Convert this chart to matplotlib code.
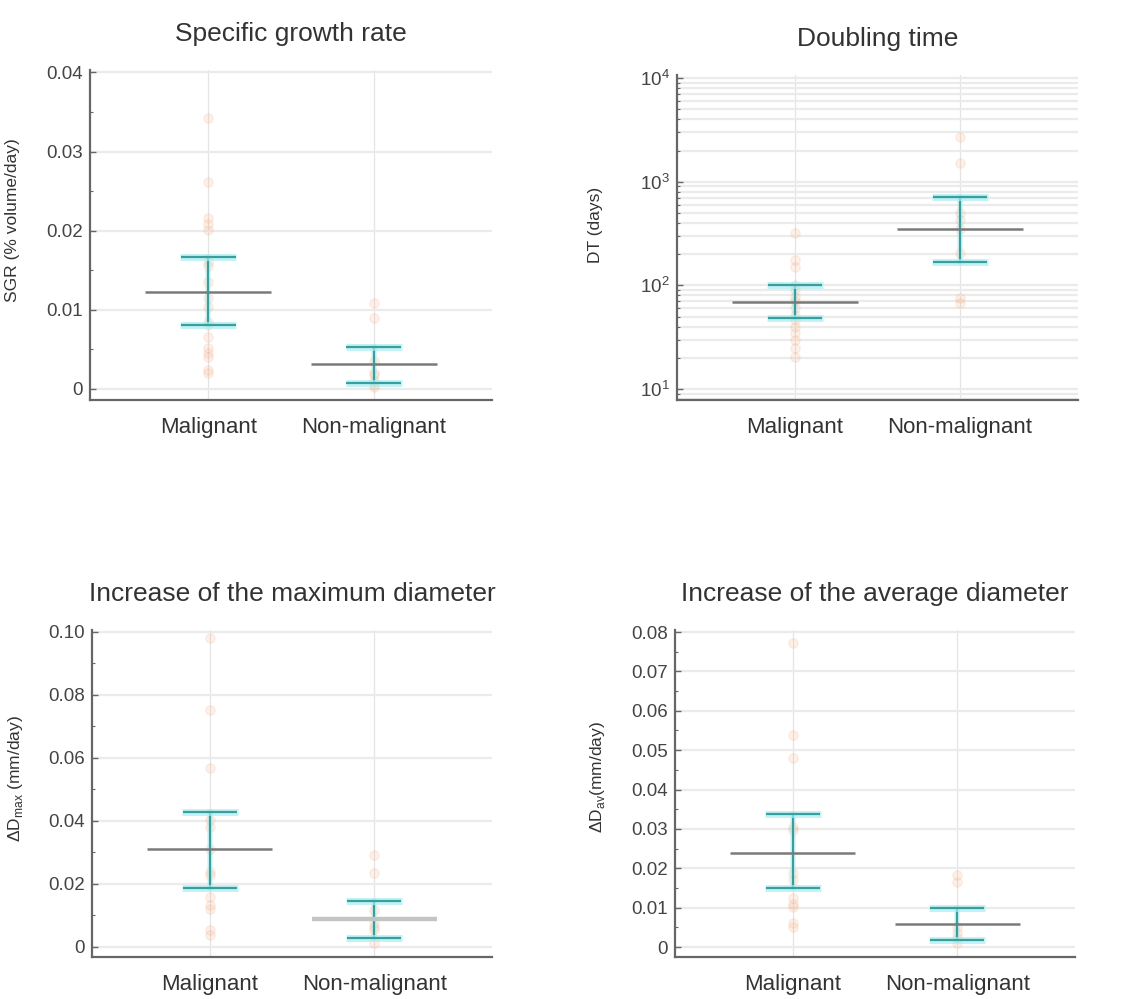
import matplotlib
matplotlib.use('Agg')
import matplotlib.pyplot as plt
from matplotlib.ticker import FixedLocator, LogLocator, NullFormatter, AutoMinorLocator

plt.rcParams['font.family'] = ['Liberation Sans', 'DejaVu Sans']
plt.rcParams['mathtext.fontset'] = 'custom'
plt.rcParams['mathtext.rm'] = 'Liberation Sans'

cats = ['Malignant', 'Non-malignant']

# specific growth rate
sgr_mal = [0.0343, 0.0262, 0.0216, 0.0209, 0.0201, 0.0160, 0.0155, 0.0135, 0.0115,
           0.0103, 0.0085, 0.0081, 0.0066, 0.0052, 0.0045, 0.0040, 0.0024, 0.0020]
sgr_non = [0.0108, 0.0089, 0.0035, 0.0020, 0.0017, 0.0010, 0.0005, 0.0002]
sgr_mean = [0.0123, 0.0032]
sgr_lo = [0.0081, 0.0007]
sgr_hi = [0.0167, 0.0053]
sgr_ticks = [0, 0.01, 0.02, 0.03, 0.04]
sgr_labels = ['0', '0.01', '0.02', '0.03', '0.04']

# doubling time
dt_mal = [319, 175, 151, 100, 90, 78, 70, 60, 52, 46, 40, 35, 30, 25, 20.5]
dt_non = [2710, 1500, 494, 427, 350, 203, 75, 67]
dt_mean = [69.5, 347]
dt_lo = [48, 167]
dt_hi = [100, 715]

# increase of max diameter
dmax_mal = [0.098, 0.0752, 0.0568, 0.0403, 0.0382, 0.031, 0.0239, 0.0229, 0.016,
            0.0133, 0.0122, 0.0054, 0.0038]
dmax_non = [0.0292, 0.0235, 0.0117, 0.0076, 0.0064, 0.0054, 0.0013]
dmax_mean = [0.0310, 0.0089]
dmax_lo = [0.0188, 0.0030]
dmax_hi = [0.0430, 0.0147]
dmax_ticks = [0, 0.02, 0.04, 0.06, 0.08, 0.10]
dmax_labels = ['0', '0.02', '0.04', '0.06', '0.08', '0.10']

# increase of average diameter
dav_mal = [0.0771, 0.0538, 0.0479, 0.0306, 0.0297, 0.0187, 0.017, 0.0124, 0.011,
           0.0102, 0.006, 0.0052]
dav_non = [0.0183, 0.0166, 0.0052, 0.0035, 0.0022, 0.001]
dav_mean = [0.0240, 0.0058]
dav_lo = [0.0149, 0.0019]
dav_hi = [0.0338, 0.0098]
dav_ticks = [0, 0.01, 0.02, 0.03, 0.04, 0.05, 0.06, 0.07, 0.08]
dav_labels = ['0', '0.01', '0.02', '0.03', '0.04', '0.05', '0.06', '0.07', '0.08']

fig = plt.figure(figsize=(11.22, 9.99), dpi=100)

TEAL = '#3a9e9e'
GLOW = '#a8eef0'
DOT = '#f7a779'


def panel(ax, groups, mean, lo, hi, title, ylabel, mean_colors=('#7a7a7a', '#7a7a7a'),
          mean_lw=(1.8, 1.8)):
    pos = [1, 2]
    for p in pos:
        ax.axvline(p, color='#e4e4e4', lw=0.9, zorder=0)
    for p, vals in zip(pos, groups):
        ax.scatter([p] * len(vals), vals, s=45, facecolor=DOT, edgecolor=DOT,
                   alpha=0.16, lw=1.0, zorder=2)
    for i, p in enumerate(pos):
        ax.plot([p, p], [lo[i], hi[i]], color=GLOW, lw=4, alpha=0.5, zorder=3)
        ax.plot([p, p], [lo[i], hi[i]], color=TEAL, lw=1.6, zorder=3)
        for v in (lo[i], hi[i]):
            ax.plot([p - 0.17, p + 0.17], [v, v], color=GLOW, lw=5, alpha=0.7,
                    solid_capstyle='butt', zorder=3)
            ax.plot([p - 0.165, p + 0.165], [v, v], color=TEAL, lw=1.6,
                    solid_capstyle='butt', zorder=4)
        ax.plot([p - 0.38, p + 0.38], [mean[i], mean[i]], color=mean_colors[i],
                lw=mean_lw[i], solid_capstyle='butt', zorder=5)
    ax.set_xlim(0.285, 2.715)
    ax.set_xticks(pos)
    ax.set_xticklabels(cats, fontsize=16, color='#333333')
    ax.tick_params(axis='x', length=0, pad=12)
    ax.tick_params(axis='y', which='both', direction='in', colors='#666666',
                   labelcolor='#444444', labelsize=13.5, pad=5)
    ax.tick_params(axis='y', which='major', length=4, width=1)
    ax.tick_params(axis='y', which='minor', length=2.5, width=0.8)
    ax.grid(axis='y', which='major', color='#ebebeb', lw=1.6, zorder=0)
    ax.set_axisbelow(True)
    for s in ('top', 'right'):
        ax.spines[s].set_visible(False)
    for s in ('left', 'bottom'):
        ax.spines[s].set_color('#666666')
        ax.spines[s].set_linewidth(1.6)
    ax.set_title(title, fontsize=19, color='#333333', pad=21)
    ax.set_ylabel(ylabel, fontsize=12.5, color='#333333')


ax1 = fig.add_axes([0.0802, 0.5996, 0.3583, 0.3303])
panel(ax1, [sgr_mal, sgr_non], sgr_mean, sgr_lo, sgr_hi,
      'Specific growth rate', 'SGR (% volume/day)')
ax1.set_ylim(-0.0014, 0.0403)
ax1.yaxis.set_major_locator(FixedLocator(sgr_ticks))
ax1.set_yticklabels(sgr_labels)
ax1.yaxis.set_minor_locator(AutoMinorLocator(2))
ax1.yaxis.set_label_coords(-0.174, 0.545)

ax2 = fig.add_axes([0.6034, 0.5996, 0.3574, 0.3253])
ax2.set_yscale('log')
panel(ax2, [dt_mal, dt_non], dt_mean, dt_lo, dt_hi, 'Doubling time', 'DT (days)')
ax2.set_ylim(7.83, 10700)
ax2.yaxis.set_major_locator(LogLocator(base=10, numticks=10))
ax2.yaxis.set_minor_locator(LogLocator(base=10, subs=range(2, 10), numticks=20))
ax2.yaxis.set_minor_formatter(NullFormatter())
ax2.grid(axis='y', which='minor', color='#ebebeb', lw=1.6, zorder=0)
ax2.yaxis.set_label_coords(-0.185, 0.54)

ax3 = fig.add_axes([0.082, 0.042, 0.3565, 0.3273])
panel(ax3, [dmax_mal, dmax_non], dmax_mean, dmax_lo, dmax_hi,
      'Increase of the maximum diameter', r'$\Delta$D$_{\mathregular{max}}$ (mm/day)',
      mean_colors=('#7a7a7a', '#c4c4c4'), mean_lw=(1.8, 3.2))
ax3.set_ylim(-0.0032, 0.1006)
ax3.yaxis.set_major_locator(FixedLocator(dmax_ticks))
ax3.set_yticklabels(dmax_labels)
ax3.yaxis.set_minor_locator(AutoMinorLocator(2))
ax3.yaxis.set_label_coords(-0.168, 0.547)

ax4 = fig.add_axes([0.6016, 0.042, 0.3565, 0.3273])
panel(ax4, [dav_mal, dav_non], dav_mean, dav_lo, dav_hi,
      'Increase of the average diameter', r'$\Delta$D$_{\mathregular{av}}$(mm/day)')
ax4.set_ylim(-0.00254, 0.0805)
ax4.yaxis.set_major_locator(FixedLocator(dav_ticks))
ax4.set_yticklabels(dav_labels)
ax4.yaxis.set_minor_locator(AutoMinorLocator(2))
ax4.yaxis.set_label_coords(-0.17, 0.55)

fig.savefig('out.png', dpi=100)
